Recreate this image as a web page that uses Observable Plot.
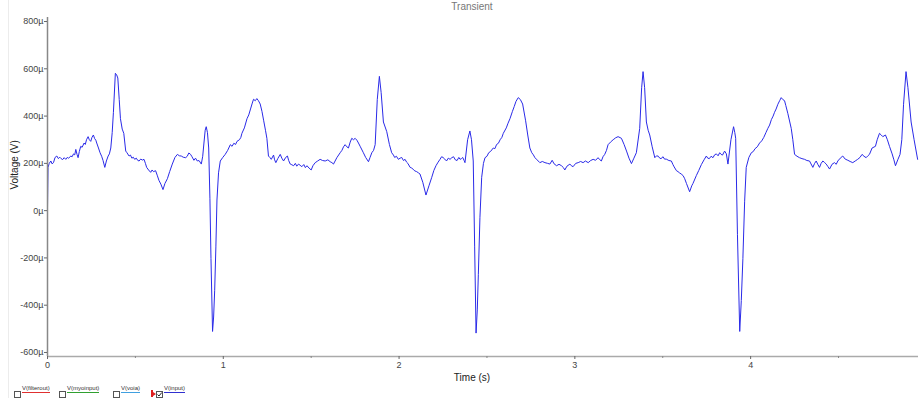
<!DOCTYPE html>
<html>
<head>
<meta charset="utf-8">
<script src="https://cdn.jsdelivr.net/npm/d3@7"></script>
<script src="https://cdn.jsdelivr.net/npm/@observablehq/plot@0.6"></script>
<style>
  html, body { margin: 0; padding: 0; background: #fff; }
  #wrap { position: relative; width: 919px; height: 398px; overflow: hidden; font-family: "Liberation Sans", Arial, sans-serif; }
  #panel { position: absolute; left: 8px; top: 0; width: 1px; height: 398px; background: #ececec; }
  #title { position: absolute; left: 0; top: 1px; width: 944px; text-align: center; font-size: 10px; line-height: 11px; color: #777; }
  #chart { position: absolute; left: 0; top: 0; }
  .leg { position: absolute; top: 385px; font-size: 6px; line-height: 7px; color: #333; }
  .box { position: absolute; top: 391px; width: 5px; height: 5px; border: 1px solid #555; background: #fff; }
</style>
</head>
<body>
<div id="wrap">
  <div id="chart"></div>
  <div id="panel"></div>
  <div id="title">Transient</div>
  <div id="legend"></div>
</div>
<script>
// Trace V(input): [time (s), voltage (µV)]
const beat1 = [
  [0,10],[0.003,183],[0.01,200],[0.019,210],[0.026,198],[0.034,203],[0.043,225],[0.053,231],[0.062,220],[0.07,226],
  [0.076,221],[0.086,216],[0.095,224],[0.104,217],[0.112,225],[0.12,222],[0.133,231],[0.14,228],[0.148,240],[0.155,236],
  [0.161,259],[0.168,238],[0.174,224],[0.181,250],[0.189,272],[0.197,268],[0.208,286],[0.215,280],[0.222,300],[0.231,313],
  [0.238,300],[0.246,293],[0.253,310],[0.261,320],[0.268,305],[0.275,298],[0.28,286],[0.29,265],[0.299,245],[0.308,230],
  [0.316,212],[0.326,183],[0.335,210],[0.345,231],[0.352,240],[0.36,265],[0.368,330],[0.375,416],[0.386,581],[0.393,575],
  [0.4,561],[0.408,470],[0.415,389],[0.425,345],[0.434,327],[0.445,252],[0.452,245],[0.464,231],[0.472,235],[0.48,222],
  [0.488,226],[0.496,217],[0.505,222],[0.514,212],[0.521,210],[0.53,218],[0.54,214],[0.549,217],[0.557,200],[0.564,183],
  [0.575,172],[0.587,162],[0.595,172],[0.603,165],[0.615,169],[0.624,150],[0.634,128],[0.645,112],[0.657,89],[0.668,115],
  [0.682,135],[0.695,165],[0.71,197],[0.725,225],[0.739,238],[0.75,232],[0.761,231],[0.772,226],[0.786,224],[0.795,230],
  [0.804,244],[0.814,238],[0.822,228],[0.833,213],[0.842,222],[0.852,210],[0.862,212],[0.875,197],[0.883,230],[0.89,286],
  [0.897,340],[0.903,355],[0.91,330],[0.917,265],[0.924,50],[0.93,-202],[0.939,-511],[0.945,-450],[0.951,-339],[0.958,-150],
  [0.964,45],[0.973,160],[0.983,210],[0.997,225],[1.011,238],[1.025,255],[1.04,279],[1.05,272],[1.06,285],[1.07,280],
  [1.078,293],[1.092,300],[1.1,310],[1.106,327],[1.12,350],[1.135,389],[1.145,405],[1.155,430],[1.165,455],[1.172,471],
  [1.182,465],[1.191,474],[1.2,465],[1.21,451],[1.22,420],[1.23,380],[1.24,340],[1.248,306],[1.257,231],[1.265,225],
  [1.273,217],[1.286,235],[1.292,215],[1.299,203],[1.31,220],[1.324,238],[1.333,222],[1.343,210],[1.355,225],[1.365,231],
  [1.372,212],[1.381,197],[1.39,194],[1.4,190],[1.41,200],[1.418,188],[1.428,197],[1.437,192],[1.447,186],[1.458,195],
  [1.467,182],[1.476,190],[1.488,180],[1.5,172],[1.51,190],[1.523,203],[1.537,210],[1.551,217],[1.565,212],[1.58,210],
  [1.595,215],[1.608,207],[1.618,203],[1.627,197],[1.646,224]
];
const beat2 = [
  [1.665,245],[1.675,255],[1.684,270],[1.693,279],[1.703,270],[1.712,265],[1.722,290],[1.731,306],[1.741,300],[1.75,306],
  [1.76,298],[1.769,286],[1.78,270],[1.797,245],[1.81,225],[1.826,207],[1.835,225],[1.845,245],[1.855,255],[1.864,279],
  [1.876,470],[1.888,568],[1.898,500],[1.911,375],[1.93,334],[1.945,280],[1.958,245],[1.968,235],[1.975,225],[1.985,230],
  [1.996,217],[2.006,222],[2.015,225],[2.025,212],[2.034,217],[2.043,205],[2.05,200],[2.063,183],[2.072,180],[2.08,175],
  [2.09,168],[2.1,165],[2.11,160],[2.119,155],[2.135,120],[2.153,66],[2.17,105],[2.186,141],[2.198,170],[2.21,190],
  [2.222,205],[2.233,217],[2.242,228],[2.25,225],[2.26,218],[2.27,210],[2.28,222],[2.29,217],[2.3,224],[2.31,228],
  [2.32,215],[2.33,212],[2.34,225],[2.347,217],[2.355,220],[2.362,225],[2.37,212],[2.375,203],[2.39,300],[2.403,337],
  [2.412,300],[2.422,210],[2.43,-150],[2.438,-518],[2.445,-420],[2.451,-271],[2.46,-30],[2.47,141],[2.48,200],[2.489,224],
  [2.5,230],[2.51,245],[2.52,250],[2.536,265],[2.545,262],[2.555,280],[2.565,285],[2.575,300],[2.585,310],[2.593,327],
  [2.61,350],[2.62,370],[2.631,389],[2.645,420],[2.655,440],[2.665,462],[2.678,478],[2.69,470],[2.703,451],[2.72,380],
  [2.732,320],[2.744,265],[2.755,245],[2.764,236],[2.773,224],[2.785,215],[2.801,203],[2.815,208],[2.83,203],[2.845,200],
  [2.858,197],[2.871,213],[2.882,198],[2.896,190],[2.91,196],[2.924,190],[2.935,182],[2.943,172],[2.955,188],[2.972,197],
  [2.98,190],[2.99,186],[3.005,200],[3.019,203],[3.033,208],[3.047,203],[3.06,210],[3.076,203],[3.09,212],[3.104,217],
  [3.118,213],[3.132,224],[3.141,216],[3.151,210],[3.16,228],[3.17,238],[3.18,255],[3.189,279],[3.203,290],[3.218,300],
  [3.232,308],[3.246,313],[3.265,306],[3.28,280],[3.294,252],[3.308,222],[3.322,199],[3.336,222],[3.35,245]
];
const beat3 = [
  [3.369,348],[3.38,520],[3.388,588],[3.397,520],[3.407,375],[3.417,340],[3.426,320],[3.44,270],[3.455,224],[3.465,232],
  [3.475,230],[3.483,222],[3.49,220],[3.502,228],[3.51,218],[3.52,218],[3.535,212],[3.549,210],[3.558,195],[3.565,185],
  [3.578,169],[3.587,165],[3.595,160],[3.605,155],[3.616,148],[3.625,135],[3.635,115],[3.653,80],[3.665,105],[3.672,115],
  [3.691,148],[3.705,170],[3.72,195],[3.735,215],[3.748,231],[3.756,222],[3.765,220],[3.775,230],[3.786,224],[3.795,236],
  [3.805,240],[3.815,232],[3.824,245],[3.832,238],[3.84,235],[3.852,252],[3.862,240],[3.871,197],[3.888,300],[3.903,355],
  [3.91,330],[3.915,306],[3.925,-100],[3.938,-511],[3.947,-380],[3.956,-202],[3.966,40],[3.975,183],[3.99,225],[4.004,245],
  [4.015,250],[4.025,262],[4.038,270],[4.051,286],[4.063,295],[4.075,310],[4.087,330],[4.098,348],[4.108,362],[4.118,385],
  [4.128,400],[4.136,416],[4.145,430],[4.155,450],[4.165,465],[4.174,478],[4.183,470],[4.193,465],[4.2,445],[4.212,410],
  [4.231,348],[4.24,300],[4.25,238],[4.264,230],[4.278,224],[4.292,220],[4.307,217],[4.32,212],[4.335,210],[4.354,183],
  [4.364,200],[4.373,210],[4.382,196],[4.392,183],[4.401,200],[4.411,210],[4.42,204],[4.43,197],[4.44,186],[4.449,176],
  [4.463,196],[4.477,203],[4.487,196],[4.496,210],[4.51,222],[4.524,231],[4.538,218],[4.553,213],[4.566,208],[4.581,203],
  [4.595,210],[4.609,217],[4.622,225],[4.634,238],[4.645,230],[4.657,224],[4.667,232],[4.676,238],[4.691,265],[4.71,272],
  [4.72,300],[4.733,327],[4.743,320],[4.752,313],[4.767,320],[4.778,300],[4.79,272],[4.805,240],[4.815,215],[4.824,190],
  [4.837,215],[4.85,238],[4.86,300],[4.87,450],[4.884,588],[4.895,520],[4.913,375],[4.93,300],[4.95,217]
];
const yTicks = [-600, -400, -200, 0, 200, 400, 600, 800];
const xTicks = [0, 1, 2, 3, 4];
const xMinorTicks = [0.5, 1.5, 2.5, 3.5, 4.5];
const legendItems = [
  {name: "V(filterout)", color: "#e03030", checked: false},
  {name: "V(myoinput)", color: "#30a030", checked: false},
  {name: "V(voia)", color: "#40a0e0", checked: false},
  {name: "V(input)", color: "#3030d0", checked: true}
];

const trace = [...beat1, ...beat2, ...beat3];

const chart = Plot.plot({
  width: 919,
  height: 384,
  marginLeft: 47,
  marginRight: 1,
  marginTop: 17,
  marginBottom: 28,
  x: {domain: [0, 4.955]},
  y: {domain: [-617, 817]},
  style: {fontFamily: "'Liberation Sans', Arial, sans-serif", fontSize: "9px", color: "#333", background: "transparent", overflow: "visible"},
  marks: [
    Plot.line(trace, {x: d => d[0], y: d => d[1], stroke: "#2a2ae8", strokeWidth: 1}),
    Plot.ruleX([0], {stroke: "#888", strokeWidth: 1.5}),
    Plot.ruleY([-617], {stroke: "#aaa", strokeWidth: 1.5}),
    Plot.axisY({ticks: yTicks, tickFormat: d => d + "µ", tickSize: 3, tickPadding: 1, label: null, stroke: "#666", fill: "#444"}),
    Plot.axisX({ticks: xTicks, tickFormat: d => String(d), tickSize: 3, tickPadding: 2, label: null, stroke: "#666", fill: "#444"}),
    Plot.axisX({ticks: xMinorTicks, tickFormat: () => "", tickSize: 2, label: null, stroke: "#888"}),
    Plot.text(["Time (s)"], {x: 2.415, frameAnchor: "bottom", dy: 24, fontSize: 10, fill: "#222"}),
    Plot.text(["Voltage (V)"], {y: 89, frameAnchor: "left", dx: -33, rotate: -90, fontSize: 10, fill: "#222"})
  ]
});
document.getElementById("chart").appendChild(chart);

// legend
const legend = document.getElementById("legend");
const boxLefts = [14, 59, 113, 156];
legendItems.forEach((it, i) => {
  const box = document.createElement("div");
  box.className = "box";
  box.style.left = boxLefts[i] + "px";
  if (it.checked) {
    box.innerHTML = '<svg width="5" height="5" style="position:absolute;left:0;top:0"><path d="M0.5,2.5 L2,4 L4.8,0.5" fill="none" stroke="#222" stroke-width="1"/></svg>';
    const mark = document.createElement("div");
    mark.style.cssText = "position:absolute;left:151px;top:390px;width:2px;height:7px;background:#e02020;";
    legend.appendChild(mark);
    const mark2 = document.createElement("div");
    mark2.style.cssText = "position:absolute;left:153px;top:392px;width:0;height:0;border-top:2.5px solid transparent;border-bottom:2.5px solid transparent;border-left:3px solid #e02020;";
    legend.appendChild(mark2);
  }
  legend.appendChild(box);
  const lab = document.createElement("div");
  lab.className = "leg";
  lab.style.left = (boxLefts[i] + 8) + "px";
  lab.style.borderBottom = "1px solid " + it.color;
  lab.textContent = it.name;
  legend.appendChild(lab);
});
</script>
</body>
</html>
